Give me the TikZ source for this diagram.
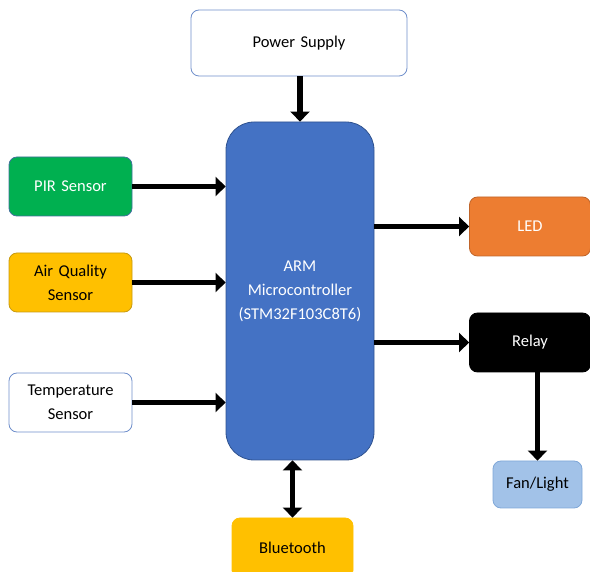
\documentclass[tikz,border=0pt]{standalone}
\usepackage{fontspec}
\setmainfont[WordSpace=0.8]{Carlito}
\usepackage{tikz}
\usetikzlibrary{positioning,arrows.meta,shapes}
\definecolor{mcuBlue}{HTML}{4472C4}
\definecolor{mcuEdge}{HTML}{2F528F}
\definecolor{boxEdge}{HTML}{6F8FCB}
\definecolor{pirGreen}{HTML}{00B050}
\definecolor{pirEdge}{HTML}{41719C}
\definecolor{goldFill}{HTML}{FFC000}
\definecolor{goldEdge}{HTML}{C89A10}
\definecolor{ledOrange}{HTML}{ED7D31}
\definecolor{ledEdge}{HTML}{C0652A}
\definecolor{fanBlue}{HTML}{A2C2E8}
\definecolor{fanEdge}{HTML}{7FA7D8}
\tikzset{
    x=1pt, y=-1pt,
    block/.style={
      rectangle,
      rounded corners=8pt,
      draw=boxEdge, thick,
      fill=white,
      text width=#1,
      align=center,
      font=\fontsize{16.5}{24}\selectfont},
    block/.default=110pt,
    arrowline/.style={draw, line width=5.5pt, -{Triangle[length=10pt,width=19pt]}},
    bothline/.style={draw, line width=5.5pt, {Triangle[length=10pt,width=19pt]}-{Triangle[length=10pt,width=19pt]}},
}
\begin{document}
\begin{tikzpicture}
      \useasboundingbox (0,0) rectangle (590,572);
      \clip (0,0) rectangle (590,572);
      % controller
      \node[block=140pt, fill=mcuBlue, draw=mcuEdge, text=white, rounded corners=28pt,
            minimum width=148pt, minimum height=338pt] (mcu) at (300,291)
            {ARM\\Microcontroller\\(STM32F103C8T6)};
      \node[block=200pt, minimum width=216pt, minimum height=66pt] (powerSupply) at (299,43) {Power Supply};
      % inputs
      \node[block, fill=pirGreen, draw=pirEdge, text=white, minimum width=123pt, minimum height=59pt] (pirSensor) at (70.5,186.5) {PIR Sensor};
      \node[block, fill=goldFill, draw=goldEdge, minimum width=123pt, minimum height=59pt] (airSensor) at (70.5,282.5) {Air Quality\\Sensor};
      \node[block, minimum width=123pt, minimum height=59pt] (tempSensor) at (70.5,402.5) {Temperature\\Sensor};
      % outputs
      \node[block, fill=ledOrange, draw=ledEdge, text=white, minimum width=121pt, minimum height=59pt] (led) at (530,226.5) {LED};
      \node[block, fill=black, draw=black, text=white, minimum width=121pt, minimum height=59pt] (relay) at (530,342.5) {Relay};
      \node[block=80pt, fill=fanBlue, draw=fanEdge, minimum width=89pt, minimum height=47pt] (fanLight) at (537.5,484.5) {Fan/Light};
      \node[block, fill=goldFill, draw=goldFill, minimum width=121pt, minimum height=60pt] (bluetooth) at (292.5,548) {Bluetooth};
      % connectors
      \draw[arrowline] (powerSupply.south -| mcu) -- (mcu.north);
      \draw[arrowline] (pirSensor.east) -- (pirSensor -| mcu.west);
      \draw[arrowline] (airSensor.east) -- (airSensor -| mcu.west);
      \draw[arrowline] (tempSensor.east) -- (tempSensor -| mcu.west);
      \draw[arrowline] (led -| mcu.east) -- (led.west);
      \draw[arrowline] (relay -| mcu.east) -- (relay.west);
      \draw[arrowline] (fanLight.north |- relay.south) -- (fanLight.north);
      \draw[bothline] (bluetooth.north |- mcu.south) -- (bluetooth.north);
\end{tikzpicture}
\end{document}
